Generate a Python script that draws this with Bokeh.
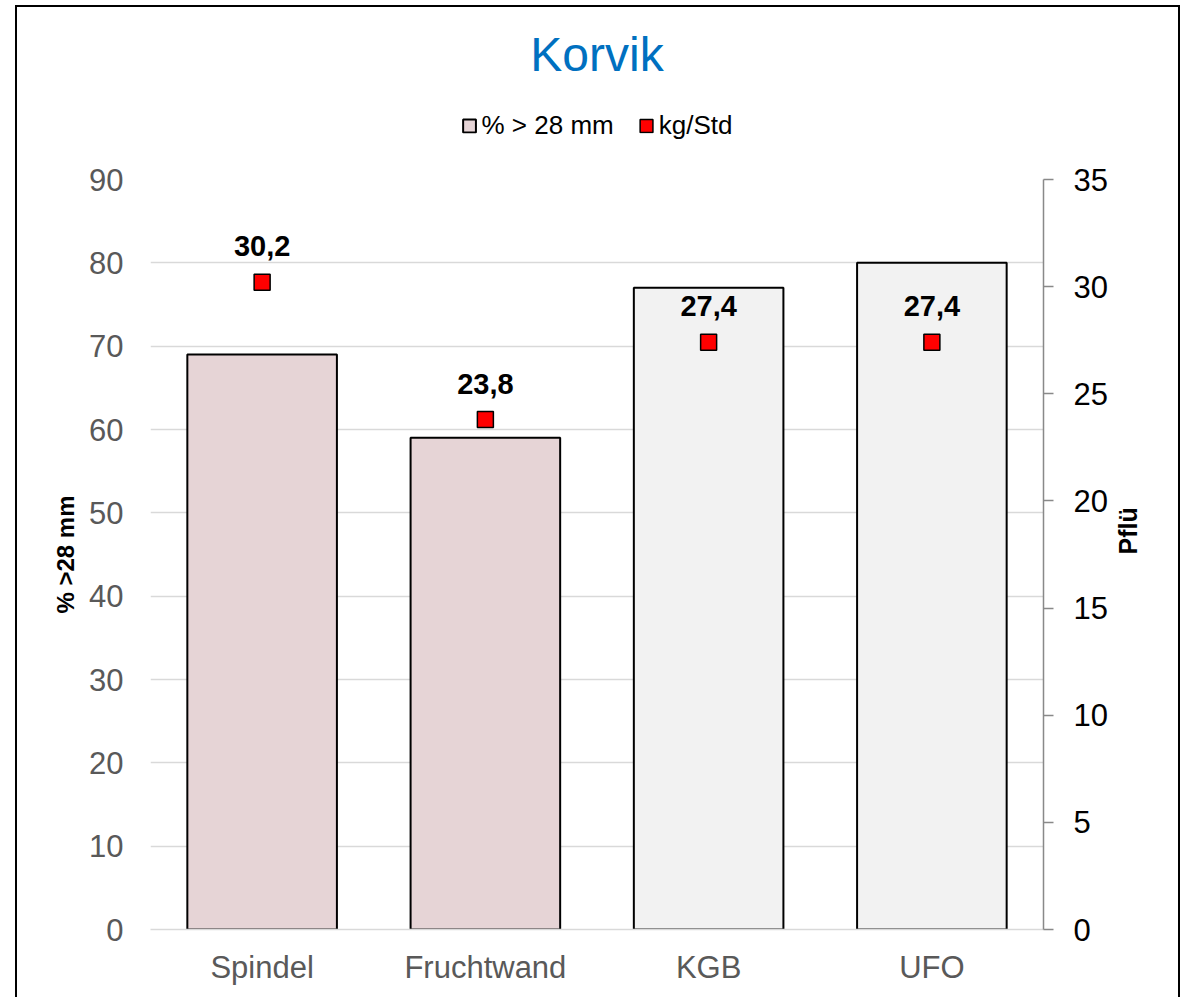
import math
from bokeh.plotting import figure
from bokeh.layouts import column
from bokeh.models import (ColumnDataSource, Range1d, LinearAxis, Legend, LegendItem,
                          LabelSet, FactorRange, InlineStyleSheet)
from bokeh.core.properties import value
from bokeh.embed import file_html
from bokeh.resources import INLINE

categories = ["Spindel", "Fruchtwand", "KGB", "UFO"]
pct_28mm = [69, 59, 77, 80]
kg_std = [30.2, 23.8, 27.4, 27.4]
kg_labels = ["30,2", "23,8", "27,4", "27,4"]
bar_colors = ["#E6D4D6", "#E6D4D6", "#F2F2F2", "#F2F2F2"]
left_ticks = [0, 10, 20, 30, 40, 50, 60, 70, 80, 90]
right_ticks = [0, 5, 10, 15, 20, 25, 30, 35]

FONT = "Liberation Sans"
MARK_RED = "#FF0000"

src = ColumnDataSource(dict(cat=categories, pct=pct_28mm, kg=kg_std,
                            lbl=kg_labels, color=bar_colors))

# ---------------- header (title + legend) ----------------
# Hidden renderers in the header only provide the legend swatches.
head = figure(width=1180, height=150, x_range=FactorRange(factors=categories),
              y_range=Range1d(0, 90),
              x_axis_type=None, y_axis_type=None, output_backend="svg",
              toolbar_location=None, min_border_left=150, min_border_right=137,
              min_border_top=100, min_border_bottom=0)
head.outline_line_color = None
head.xgrid.visible = False
head.ygrid.visible = False
head.title.text = "Korvik"
head.title.align = "center"
head.title.text_font = FONT
head.title.text_font_size = "48px"
head.title.text_font_style = "normal"
head.title.text_color = "#0070C0"
head.title.standoff = 39

lg_bar = head.vbar(x="cat", top="pct", width=0.67, fill_color="color",
                   line_color="black", line_width=2, source=src, visible=False)
lg_mark = head.rect(x="cat", y="kg", width=16, height=16, width_units="screen",
                    height_units="screen", fill_color=MARK_RED,
                    line_color="black", line_width=1.5, source=src, visible=False)
legend = Legend(items=[LegendItem(label="% > 28 mm", renderers=[lg_bar], index=0),
                       LegendItem(label="kg/Std", renderers=[lg_mark], index=0)],
                orientation="horizontal", location="center", click_policy="none",
                padding=0, margin=0, spacing=24, label_standoff=5,
                glyph_width=16, glyph_height=16, label_height=30,
                label_text_font=FONT, label_text_font_size="26px",
                label_text_color="black",
                border_line_color=None, background_fill_alpha=0)
head.add_layout(legend, "center")

# ---------------- main chart ----------------
p = figure(x_range=FactorRange(factors=categories), y_range=Range1d(0, 90),
           width=1180, height=839, output_backend="svg", toolbar_location=None,
           min_border_left=150, min_border_right=137, min_border_top=29,
           min_border_bottom=60, title=None)
p.extra_y_ranges = {"right": Range1d(0, 35)}
p.outline_line_color = None
p.background_fill_color = "white"

p.xgrid.grid_line_color = None
p.ygrid.grid_line_color = "#D9D9D9"
p.ygrid.grid_line_width = 1.5
p.ygrid.ticker = left_ticks

ly = p.yaxis[0]
ly.ticker = left_ticks
ly.axis_line_color = None
ly.major_tick_line_color = None
ly.major_tick_out = 0
ly.major_tick_in = 0
ly.minor_tick_line_color = None
ly.major_label_text_color = "#595959"
ly.major_label_text_font = FONT
ly.major_label_text_font_size = "31px"
ly.major_label_standoff = 27
ly.axis_label = "% >28 mm"
ly.axis_label_text_font = FONT
ly.axis_label_text_font_size = "24px"
ly.axis_label_text_font_style = "bold"
ly.axis_label_text_color = "black"
ly.axis_label_standoff = 7

xa = p.xaxis[0]
xa.axis_line_color = "#D9D9D9"
xa.axis_line_width = 1.5
xa.major_tick_line_color = None
xa.major_tick_out = 0
xa.major_tick_in = 0
xa.minor_tick_line_color = None
xa.major_label_text_color = "#595959"
xa.major_label_text_font = FONT
xa.major_label_text_font_size = "31px"
xa.major_label_standoff = 20

ry = LinearAxis(y_range_name="right", ticker=right_ticks)
ry.axis_line_color = "#898989"
ry.axis_line_width = 1.5
ry.major_tick_line_color = "#898989"
ry.major_tick_line_width = 1.5
ry.major_tick_out = 10
ry.major_tick_in = 0
ry.minor_tick_line_color = None
ry.major_label_text_color = "black"
ry.major_label_text_font = FONT
ry.major_label_text_font_size = "31px"
ry.major_label_standoff = 20
ry.axis_label = "Pflü"
ry.axis_label_orientation = math.pi / 2
ry.axis_label_text_font = FONT
ry.axis_label_text_font_size = "25px"
ry.axis_label_text_font_style = "bold"
ry.axis_label_text_color = "black"
ry.axis_label_standoff = 17
p.add_layout(ry, "right")

bars = p.vbar(x="cat", top="pct", width=0.67, fill_color="color",
              line_color="black", line_width=2, source=src)
marks = p.rect(x="cat", y="kg", y_range_name="right", width=16, height=16,
               width_units="screen", height_units="screen",
               fill_color=MARK_RED, line_color="black", line_width=1.5, source=src)

labels = LabelSet(x="cat", y="kg", y_range_name="right", text="lbl", source=src,
                  text_align="center", text_baseline="alphabetic", y_offset=26,
                  text_font=value(FONT), text_font_size=value("29px"),
                  text_font_style="bold", text_color="black")
p.add_layout(labels)

layout = column(head, p, spacing=0)
layout.stylesheets = [InlineStyleSheet(css="""
:host { position: relative; }
:host::after { content: ""; position: absolute; left: 15px; top: 5px;
  width: 1165px; height: 992px; border: 2px solid black; border-bottom: none;
  box-sizing: border-box; pointer-events: none; z-index: 10; }
""")]

open("out.html", "w").write(file_html(layout, INLINE))
